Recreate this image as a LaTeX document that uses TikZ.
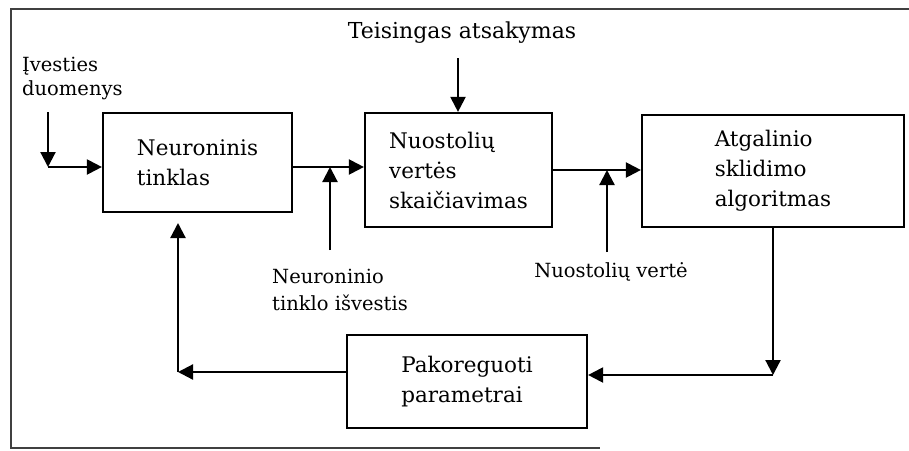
\documentclass[tikz,border=0pt]{standalone}
\usepackage{fontspec}
\setmainfont{DejaVu Serif}
\usetikzlibrary{arrows.meta}

\begin{document}
\begin{tikzpicture}[
    x=1pt, y=-1pt,
    block/.style={draw=black, line width=2.2pt, align=left, inner sep=0pt,
      font=\fontsize{21.5}{30}\selectfont},
    label/.style={align=left, inner sep=0pt, font=\fontsize{19.5}{27}\selectfont},
    arrow/.style={-{Triangle[length=15pt,width=15pt]}, line width=2.2pt, draw=black},
    frame/.style={line width=2.4pt, draw=black!75}
  ]
    \useasboundingbox (0,0) rectangle (909,450);
    \draw[frame] (909,9) -- (11,9) -- (11,448) -- (600,448);

    \node[block, minimum width=189pt, minimum height=99pt] (nn) at (197.5,162.5) {Neuroninis\\tinklas};
    \node[block, minimum width=187pt, minimum height=114pt] (loss) at (458.5,170) {Nuostolių\\vertės\\skaičiavimas};
    \node[block, minimum width=262pt, minimum height=112pt] (bp) at (773,171) {Atgalinio\\sklidimo\\algoritmas};
    \node[block, minimum width=240pt, minimum height=93pt] (adj) at (467,381.5) {Pakoreguoti\\parametrai};

    \node[label, anchor=north west, font=\fontsize{19.5}{24}\selectfont] (inLbl) at (22,57) {Įvesties\\duomenys};
    \node[label, font=\fontsize{22}{26}\selectfont] (ansLbl) at (462,33) {Teisingas atsakymas};
    \node[label] (outLbl) at (340,290) {Neuroninio\\tinklo išvestis};
    \node[label] (lossLbl) at (611,272) {Nuostolių vertė};

    \coordinate (inTop) at (48,112);
    \coordinate (inBend) at (48,167);
    \coordinate (outJoin) at (330,167);
    \coordinate (outFoot) at (330,250);
    \coordinate (ansFoot) at (458,58);
    \coordinate (lossJoin) at (607,170);
    \coordinate (lossFoot) at (607,252);
    \coordinate (bpBend) at (773,375);
    \coordinate (adjBend) at (178,372);
    \coordinate (nnFoot) at (178,223);

    \draw[arrow] (inTop) -- (inBend);
    \draw[arrow] (inBend) -- (inBend -| nn.west);
    \draw[arrow] (nn.east |- outJoin) -- (outJoin -| loss.west);
    \draw[arrow] (outFoot) -- (outJoin);
    \draw[arrow] (ansFoot) -- (ansFoot |- loss.north);
    \draw[arrow] (loss.east |- lossJoin) -- (lossJoin -| bp.west);
    \draw[arrow] (lossFoot) -- (lossJoin);
    \draw[arrow] (bp.south) -- (bpBend);
    \draw[arrow] (bpBend) -- (bpBend -| adj.east);
    \draw[arrow] (adj.west |- adjBend) -- (adjBend);
    \draw[arrow] (adjBend) -- (nnFoot);
  \end{tikzpicture}
\end{document}
